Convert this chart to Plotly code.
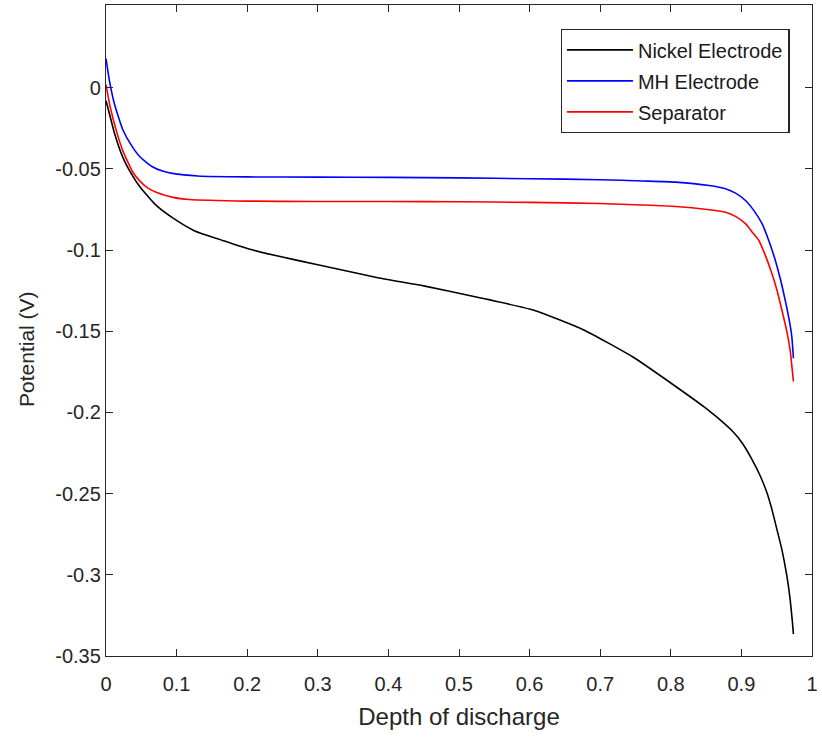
import plotly.graph_objects as go

# Depth of discharge values and potentials (V)
nickel_x = [0, 0.006, 0.012, 0.024, 0.036, 0.048, 0.07, 0.094, 0.125, 0.165, 0.2, 0.245,
            0.3, 0.385, 0.45, 0.526, 0.606, 0.676, 0.747, 0.807, 0.85, 0.8776, 0.8895,
            0.9011, 0.9151, 0.9269, 0.9362, 0.9432, 0.9503, 0.9573, 0.9644, 0.969, 0.9723,
            0.9737]
nickel_y = [-0.008, -0.018, -0.028, -0.043, -0.053, -0.061, -0.072, -0.080, -0.088, -0.094,
            -0.099, -0.1038, -0.109, -0.117, -0.122, -0.129, -0.137, -0.149, -0.166, -0.184,
            -0.1975, -0.2075, -0.2125, -0.2188, -0.229, -0.2393, -0.2495, -0.2597, -0.272,
            -0.2843, -0.3007, -0.315, -0.3293, -0.3365]

mh_x = [0, 0.005, 0.012, 0.024, 0.036, 0.048, 0.065, 0.08, 0.094, 0.13, 0.2, 0.3, 0.4, 0.5,
        0.6, 0.7, 0.76, 0.807, 0.8542, 0.8776, 0.8917, 0.9058, 0.9175, 0.9292, 0.9386,
        0.948, 0.955, 0.962, 0.9677, 0.9714, 0.9737]
mh_y = [0.018, 0.004, -0.010, -0.026, -0.0355, -0.0425, -0.0485, -0.0513, -0.0527, -0.0543,
        -0.0549, -0.0550, -0.0552, -0.0555, -0.0560, -0.0566, -0.0574, -0.0581, -0.0602,
        -0.0622, -0.0649, -0.0694, -0.0755, -0.0837, -0.0939, -0.1062, -0.1175, -0.1308,
        -0.143, -0.1533, -0.1666]

sep_x = [0, 0.006, 0.015, 0.024, 0.038, 0.048, 0.06, 0.072, 0.095, 0.118, 0.2, 0.3, 0.4,
         0.5, 0.6, 0.7, 0.76, 0.807, 0.8542, 0.8776, 0.8917, 0.9058, 0.9151, 0.9245,
         0.9339, 0.9432, 0.9503, 0.9573, 0.9644, 0.969, 0.9737]
sep_y = [0.002, -0.012, -0.027, -0.039, -0.052, -0.0575, -0.0620, -0.0645, -0.0675,
         -0.0688, -0.0698, -0.0700, -0.0700, -0.0702, -0.0706, -0.0713, -0.0722, -0.0731,
         -0.0751, -0.0766, -0.0792, -0.0837, -0.0888, -0.0939, -0.1032, -0.1144, -0.1246,
         -0.1369, -0.1502, -0.1614, -0.1809]

x_ticks = [0, 0.1, 0.2, 0.3, 0.4, 0.5, 0.6, 0.7, 0.8, 0.9, 1]
x_labels = ["0", "0.1", "0.2", "0.3", "0.4", "0.5", "0.6", "0.7", "0.8", "0.9", "1"]
y_ticks = [0, -0.05, -0.1, -0.15, -0.2, -0.25, -0.3, -0.35]
y_labels = ["0", "-0.05", "-0.1", "-0.15", "-0.2", "-0.25", "-0.3", "-0.35"]

FONT = "Liberation Sans, Arial, sans-serif"
AX = "#262626"

fig = go.Figure()
series = [("Nickel Electrode", nickel_x, nickel_y, "#000000"),
          ("MH Electrode", mh_x, mh_y, "#0000ff"),
          ("Separator", sep_x, sep_y, "#ff0000")]
for name, xs, ys, col in series:
    fig.add_trace(go.Scatter(x=xs, y=ys, mode="lines", name=name, legendgroup=name,
                             line=dict(color=col, width=1.6, shape="spline", smoothing=0.5)))

axis_common = dict(showgrid=False, zeroline=False, showline=True, mirror="ticks",
                   linecolor=AX, linewidth=1.3, ticks="inside", ticklen=7,
                   tickcolor=AX, tickwidth=1.2, ticklabeloverflow="allow",
                   tickfont=dict(family=FONT, size=20, color=AX))

fig.update_layout(
    width=822, height=743,
    margin=dict(l=106, r=5, t=4, b=87),
    paper_bgcolor="white", plot_bgcolor="white",
    font=dict(family=FONT, color=AX),
    xaxis=dict(range=[0, 1], tickvals=x_ticks, ticktext=x_labels, ticklabelstandoff=10,
               title=dict(text="Depth of discharge", font=dict(size=24, color=AX), standoff=14),
               **axis_common),
    yaxis=dict(range=[-0.35, 0.051], tickvals=y_ticks, ticktext=y_labels,
               **axis_common),
    legend=dict(x=0.644, y=0.963, xanchor="left", yanchor="top",
                bgcolor="white", bordercolor=AX, borderwidth=1.3,
                font=dict(family=FONT, size=20, color="#1a1a1a"),
                itemwidth=66, tracegroupgap=2, traceorder="grouped"),
    showlegend=True,
    annotations=[dict(text="Potential (V)", textangle=-90, xref="paper", yref="paper",
                      x=-0.1125, y=0.471, xanchor="center", yanchor="middle",
                      showarrow=False, font=dict(family=FONT, size=21, color=AX))],
)

fig.write_html("out.html")
